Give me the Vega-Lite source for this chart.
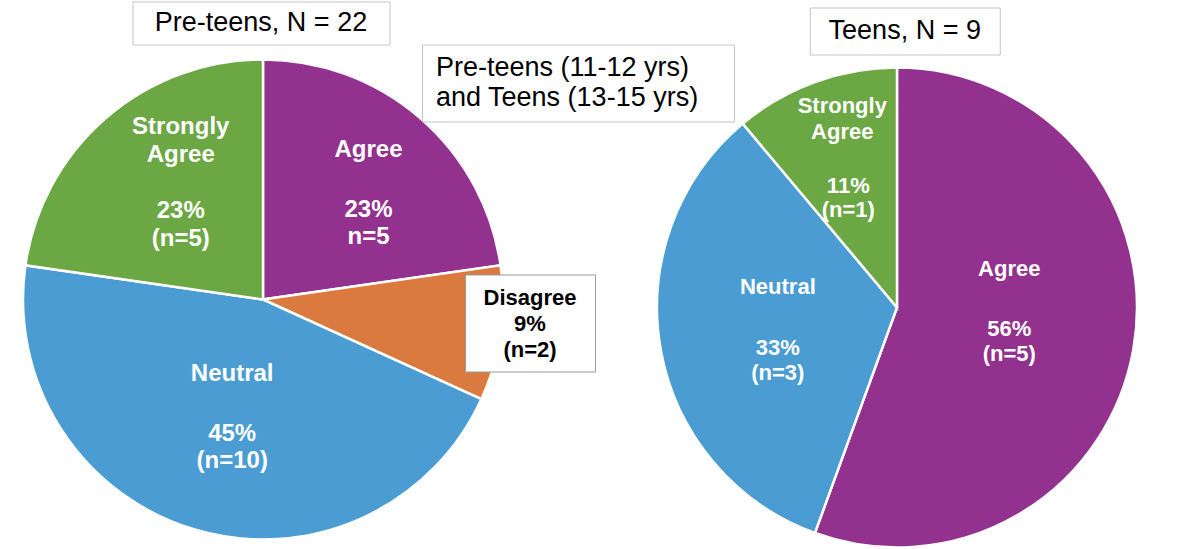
{
  "$schema": "https://vega.github.io/schema/vega-lite/v6.json",
  "background": "white",
  "padding": {"left": 18, "top": 0.5, "right": 0, "bottom": 0},
  "config": {"font": "Liberation Sans", "view": {"stroke": null}},
  "bounds": "flush",
  "spacing": 399,
  "hconcat": [
    {
      "spacing": 9,
      "center": true,
      "vconcat": [
        {
          "spacing": 0,
          "hconcat": [
            {
              "width": 257, "height": 43,
              "view": {"stroke": "#c4c4c4", "fill": "white"},
              "data": {"values": [{"t": "Pre-teens, N = 22"}]},
              "mark": {"type": "text", "fontSize": 27, "color": "black"},
              "encoding": {"text": {"field": "t", "type": "nominal"}}
            },
            {
              "width": 8, "height": 1,
              "data": {"values": [{}]},
              "mark": {"type": "point", "size": 0, "opacity": 0, "strokeWidth": 0},
              "encoding": {}
            }
          ]
        },
        {
          "width": 480, "height": 480,
          "data": {"values": [
            {"resp": "Agree", "n": 5, "ord": 1, "name": "Agree", "nums": "23%\nn=5"},
            {"resp": "Disagree", "n": 2, "ord": 2, "name": "Disagree", "nums": "9%\n(n=2)"},
            {"resp": "Neutral", "n": 10, "ord": 3, "name": "Neutral", "nums": "45%\n(n=10)"},
            {"resp": "Strongly Agree", "n": 5, "ord": 4, "name": "Strongly\nAgree", "nums": "23%\n(n=5)"}
          ]},
          "encoding": {
            "theta": {"field": "n", "type": "quantitative", "stack": true},
            "order": {"field": "ord", "type": "quantitative"}
          },
          "layer": [
            {
              "mark": {"type": "arc", "radius": 240, "stroke": "white", "strokeWidth": 2.5},
              "encoding": {
                "color": {"field": "resp", "type": "nominal", "legend": null,
                  "scale": {"domain": ["Strongly Agree", "Agree", "Neutral", "Disagree"], "range": ["#6BA743", "#93328E", "#4A9CD3", "#DB7A3E"]}}
              }
            },
            {
              "mark": {"type": "text", "radius": 150, "dx": 16, "dy": -59, "fontSize": 24, "fontWeight": "bold", "fill": "white", "lineBreak": "\n", "lineHeight": 28},
              "encoding": {"text": {"field": "name", "type": "nominal", "condition": {"test": "datum.resp !== 'Strongly Agree'", "value": ""}}}
            },
            {
              "mark": {"type": "text", "radius": 150, "dx": 16, "dy": 25, "fontSize": 24, "fontWeight": "bold", "fill": "white", "lineBreak": "\n", "lineHeight": 28},
              "encoding": {"text": {"field": "nums", "type": "nominal", "condition": {"test": "datum.resp !== 'Strongly Agree'", "value": ""}}}
            },
            {
              "mark": {"type": "text", "radius": 155, "dx": 4, "dy": -32, "fontSize": 24, "fontWeight": "bold", "fill": "white", "lineBreak": "\n", "lineHeight": 27},
              "encoding": {"text": {"field": "name", "type": "nominal", "condition": {"test": "datum.resp !== 'Agree'", "value": ""}}}
            },
            {
              "mark": {"type": "text", "radius": 155, "dx": 4, "dy": 28, "fontSize": 24, "fontWeight": "bold", "fill": "white", "lineBreak": "\n", "lineHeight": 27},
              "encoding": {"text": {"field": "nums", "type": "nominal", "condition": {"test": "datum.resp !== 'Agree'", "value": ""}}}
            },
            {
              "mark": {"type": "text", "radius": 120, "dx": 3, "dy": -41, "fontSize": 24, "fontWeight": "bold", "fill": "white", "lineBreak": "\n", "lineHeight": 27},
              "encoding": {"text": {"field": "name", "type": "nominal", "condition": {"test": "datum.resp !== 'Neutral'", "value": ""}}}
            },
            {
              "mark": {"type": "text", "radius": 120, "dx": 3, "dy": 19, "fontSize": 24, "fontWeight": "bold", "fill": "white", "lineBreak": "\n", "lineHeight": 27},
              "encoding": {"text": {"field": "nums", "type": "nominal", "condition": {"test": "datum.resp !== 'Neutral'", "value": ""}}}
            }
          ]
        }
      ]
    },
    {
      "bounds": "flush",
      "spacing": 235,
      "hconcat": [
        {
          "spacing": 0,
          "vconcat": [
            {
              "width": 1, "height": 42,
              "data": {"values": [{}]},
              "mark": {"type": "point", "size": 0, "opacity": 0, "strokeWidth": 0},
              "encoding": {}
            },
            {
              "width": 312, "height": 77,
              "view": {"stroke": "#c4c4c4", "fill": "white"},
              "data": {"values": [{"t": "Pre-teens (11-12 yrs)\nand Teens (13-15 yrs)"}]},
              "mark": {"type": "text", "fontSize": 27, "color": "black", "align": "left", "lineBreak": "\n", "lineHeight": 30, "dx": -142, "dy": -15},
              "encoding": {"text": {"field": "t", "type": "nominal"}}
            },
            {
              "width": 1, "height": 151,
              "data": {"values": [{}]},
              "mark": {"type": "point", "size": 0, "opacity": 0, "strokeWidth": 0},
              "encoding": {}
            },
            {
              "spacing": 0,
              "hconcat": [
                {
                  "width": 42, "height": 1,
                  "data": {"values": [{}]},
                  "mark": {"type": "point", "size": 0, "opacity": 0, "strokeWidth": 0},
                  "encoding": {}
                },
                {
                  "width": 130, "height": 97,
                  "view": {"stroke": "#9a9a9a", "fill": "white"},
                  "data": {"values": [{"t": "Disagree\n9%\n(n=2)"}]},
                  "mark": {"type": "text", "fontSize": 22, "fontWeight": "bold", "color": "black", "lineBreak": "\n", "lineHeight": 26, "dy": -25},
                  "encoding": {"text": {"field": "t", "type": "nominal"}}
                }
              ]
            }
          ]
        },
        {
          "spacing": 0,
          "center": true,
          "vconcat": [
            {
              "width": 1, "height": 5,
              "data": {"values": [{}]},
              "mark": {"type": "point", "size": 0, "opacity": 0, "strokeWidth": 0},
              "encoding": {}
            },
            {
              "spacing": 0,
              "hconcat": [
                {
                  "width": 10, "height": 1,
                  "data": {"values": [{}]},
                  "mark": {"type": "point", "size": 0, "opacity": 0, "strokeWidth": 0},
                  "encoding": {}
                },
                {
                  "width": 190, "height": 47,
                  "view": {"stroke": "#c4c4c4", "fill": "white"},
                  "data": {"values": [{"t": "Teens, N = 9"}]},
                  "mark": {"type": "text", "fontSize": 27, "color": "black"},
                  "encoding": {"text": {"field": "t", "type": "nominal"}}
                }
              ]
            },
            {
              "width": 1, "height": 7,
              "data": {"values": [{}]},
              "mark": {"type": "point", "size": 0, "opacity": 0, "strokeWidth": 0},
              "encoding": {}
            },
            {
              "width": 480, "height": 480,
              "data": {"values": [
                {"resp": "Agree", "n": 5, "ord": 1, "name": "Agree", "nums": "56%\n(n=5)"},
                {"resp": "Neutral", "n": 3, "ord": 2, "name": "Neutral", "nums": "33%\n(n=3)"},
                {"resp": "Strongly Agree", "n": 1, "ord": 3, "name": "Strongly\nAgree", "nums": "11%\n(n=1)"}
              ]},
              "encoding": {
                "theta": {"field": "n", "type": "quantitative", "stack": true},
                "order": {"field": "ord", "type": "quantitative"}
              },
              "layer": [
                {
                  "mark": {"type": "arc", "radius": 240, "stroke": "white", "strokeWidth": 2.5},
                  "encoding": {
                    "color": {"field": "resp", "type": "nominal", "legend": null,
                      "scale": {"domain": ["Strongly Agree", "Agree", "Neutral", "Disagree"], "range": ["#6BA743", "#93328E", "#4A9CD3", "#DB7A3E"]}}
                  }
                },
                {
                  "mark": {"type": "text", "radius": 160, "dy": -51, "fontSize": 22, "fontWeight": "bold", "fill": "white", "lineBreak": "\n", "lineHeight": 26},
                  "encoding": {"text": {"field": "name", "type": "nominal", "condition": {"test": "datum.resp !== 'Strongly Agree'", "value": ""}}}
                },
                {
                  "mark": {"type": "text", "radius": 160, "dx": 6, "dy": 29, "fontSize": 22, "fontWeight": "bold", "fill": "white", "lineBreak": "\n", "lineHeight": 24},
                  "encoding": {"text": {"field": "nums", "type": "nominal", "condition": {"test": "datum.resp !== 'Strongly Agree'", "value": ""}}}
                },
                {
                  "mark": {"type": "text", "radius": 114, "dy": -58, "fontSize": 22, "fontWeight": "bold", "fill": "white", "lineBreak": "\n", "lineHeight": 25},
                  "encoding": {"text": {"field": "name", "type": "nominal", "condition": {"test": "datum.resp !== 'Agree'", "value": ""}}}
                },
                {
                  "mark": {"type": "text", "radius": 114, "dy": 2, "fontSize": 22, "fontWeight": "bold", "fill": "white", "lineBreak": "\n", "lineHeight": 25},
                  "encoding": {"text": {"field": "nums", "type": "nominal", "condition": {"test": "datum.resp !== 'Agree'", "value": ""}}}
                },
                {
                  "mark": {"type": "text", "radius": 121, "dy": -42, "fontSize": 22, "fontWeight": "bold", "fill": "white", "lineBreak": "\n", "lineHeight": 25},
                  "encoding": {"text": {"field": "name", "type": "nominal", "condition": {"test": "datum.resp !== 'Neutral'", "value": ""}}}
                },
                {
                  "mark": {"type": "text", "radius": 121, "dy": 19, "fontSize": 22, "fontWeight": "bold", "fill": "white", "lineBreak": "\n", "lineHeight": 25},
                  "encoding": {"text": {"field": "nums", "type": "nominal", "condition": {"test": "datum.resp !== 'Neutral'", "value": ""}}}
                }
              ]
            }
          ]
        }
      ]
    }
  ]
}
